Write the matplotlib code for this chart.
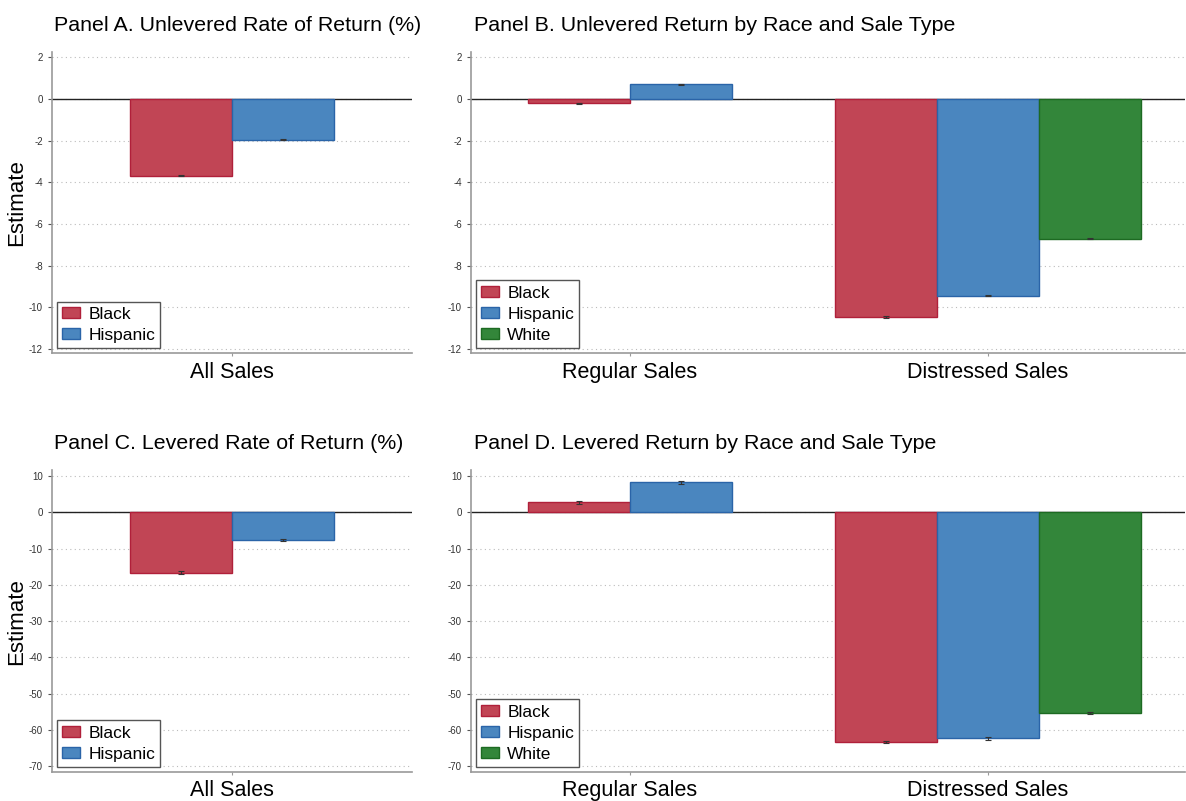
import matplotlib.pyplot as plt
import numpy as np

plt.rcParams['font.family'] = ['Liberation Sans', 'DejaVu Sans']
plt.rcParams['axes.unicode_minus'] = False

races = ['Black', 'Hispanic', 'White']
colors = {'Black': '#c14555', 'Hispanic': '#4a86bf', 'White': '#33863a'}
edges = {'Black': '#b0203a', 'Hispanic': '#2a64a8', 'White': '#1d6a22'}

# Panel A / C: all sales
all_sales = ['All Sales']
unlev_all = {'Black': [-3.68], 'Hispanic': [-1.94]}
unlev_all_se = {'Black': [0.03], 'Hispanic': [0.02]}
lev_all = {'Black': [-16.6], 'Hispanic': [-7.6]}
lev_all_se = {'Black': [0.3], 'Hispanic': [0.2]}

# Panel B / D: by sale type (white regular sales is the omitted group)
sale_types = ['Regular Sales', 'Distressed Sales']
unlev_type = {'Black': [-0.2, -10.46], 'Hispanic': [0.72, -9.44], 'White': [None, -6.7]}
unlev_type_se = {'Black': [0.03, 0.04], 'Hispanic': [0.03, 0.03], 'White': [None, 0.03]}
lev_type = {'Black': [2.75, -63.4], 'Hispanic': [8.26, -62.4], 'White': [None, -55.3]}
lev_type_se = {'Black': [0.4, 0.3], 'Hispanic': [0.3, 0.3], 'White': [None, 0.3]}

WIDTH = 0.285


def draw_panel(ax, title, cats, values, errs, yticks, ylim, ylabel):
    for i, cat in enumerate(cats):
        present = [r for r in races if r in values and values[r][i] is not None]
        n = len(present)
        for j, r in enumerate(present):
            x = i + (j - (n - 1) / 2) * WIDTH
            v = values[r][i]
            ax.bar(x, v, WIDTH, color=colors[r], edgecolor=edges[r], linewidth=1.0, zorder=3)
            ax.errorbar(x, v, yerr=errs[r][i], fmt='none', ecolor='#333333',
                        elinewidth=0.8, capsize=2, capthick=0.8, zorder=4)
    handles = [plt.Rectangle((0, 0), 1, 1, facecolor=colors[r], edgecolor=edges[r])
               for r in races if r in values]
    leg = ax.legend(handles, [r for r in races if r in values], loc='lower left',
                    fontsize=12.5, fancybox=False, edgecolor='#555555', framealpha=1,
                    handlelength=1.0, handleheight=0.6, borderpad=0.3,
                    labelspacing=0.35, handletextpad=0.5, borderaxespad=0.3)
    leg.get_frame().set_linewidth(1.0)

    ax.axhline(0, color='#222222', linewidth=1.0, zorder=2)
    if len(cats) > 1:
        ax.set_xlim(-0.444, 1.55)
    else:
        ax.set_xlim(-0.504, 0.504)
    ax.set_ylim(*ylim)
    ax.set_yticks(yticks)
    ax.set_xticks(range(len(cats)))
    ax.set_xticklabels(cats, fontsize=15.5)
    ax.tick_params(axis='y', labelsize=7, colors='#555555', length=3, labelcolor='#333333')
    ax.tick_params(axis='x', length=2, colors='#999999', labelcolor='black', pad=4)
    ax.yaxis.grid(True, linestyle=(0, (1, 3)), color='#bbbbbb', linewidth=0.8, zorder=0)
    for s in ['top', 'right']:
        ax.spines[s].set_visible(False)
    for s in ['left', 'bottom']:
        ax.spines[s].set_color('#999999')
        ax.spines[s].set_linewidth(1.2)
    ax.set_title(title, loc='left', fontsize=15.4, pad=15, x=0.005)
    if ylabel:
        ax.set_ylabel('Estimate', fontsize=16)
        ax.yaxis.set_label_coords(-0.07, 0.5)


fig = plt.figure(figsize=(11.86, 8.01), dpi=100)
ax_a = fig.add_axes([0.0438, 0.559, 0.304, 0.376])
ax_b = fig.add_axes([0.397, 0.559, 0.602, 0.376])
ax_c = fig.add_axes([0.0438, 0.036, 0.304, 0.377])
ax_d = fig.add_axes([0.397, 0.036, 0.602, 0.377])

draw_panel(ax_a, 'Panel A. Unlevered Rate of Return (%)', all_sales, unlev_all, unlev_all_se,
           np.arange(-12, 3, 2), (-12.2, 2.26), True)
draw_panel(ax_b, 'Panel B. Unlevered Return by Race and Sale Type', sale_types, unlev_type,
           unlev_type_se, np.arange(-12, 3, 2), (-12.2, 2.26), False)
draw_panel(ax_c, 'Panel C. Levered Rate of Return (%)', all_sales, lev_all, lev_all_se,
           np.arange(-70, 11, 10), (-71.7, 11.65), True)
draw_panel(ax_d, 'Panel D. Levered Return by Race and Sale Type', sale_types, lev_type,
           lev_type_se, np.arange(-70, 11, 10), (-71.7, 11.65), False)

fig.savefig('out.png', dpi=100)
